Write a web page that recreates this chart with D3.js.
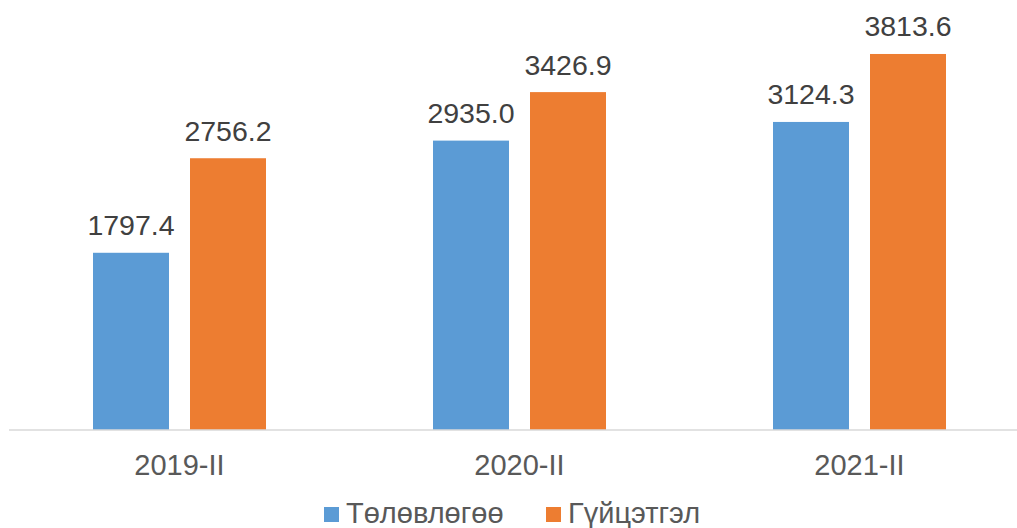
<!DOCTYPE html>
<html>
<head>
<meta charset="utf-8">
<script src="https://cdn.jsdelivr.net/npm/d3@7"></script>
<style>
  body { margin: 0; background: #ffffff; }
  svg text { font-family: "Liberation Sans", Arial, sans-serif; }
</style>
</head>
<body>
<svg id="chart" width="1017" height="528"></svg>
<script>
var categories = ["2019-II", "2020-II", "2021-II"];
var seriesNames = ["Төлөвлөгөө", "Гүйцэтгэл"];
var planValues = [1797.4, 2935.0, 3124.3];
var actualValues = [2756.2, 3426.9, 3813.6];
var seriesColors = ["#5b9bd5", "#ed7d31"];

var svg = d3.select("#chart");
var width = 1017, height = 528;
var baseY = 430;

var x = d3.scaleBand()
  .domain(categories)
  .range([9.5, 1029.5])
  .padding(0);

var xInner = d3.scaleBand()
  .domain(seriesNames)
  .range([-86.5, 86.5])
  .paddingInner(0.2165)
  .paddingOuter(0);

var y = d3.scaleLinear()
  .domain([0, 4000])
  .range([baseY, 35.6]);

var series = seriesNames.map(function (name, i) {
  return { name: name, color: seriesColors[i], values: i === 0 ? planValues : actualValues };
});

// bars
series.forEach(function (s) {
  var g = svg.append("g");
  g.selectAll("rect")
    .data(s.values)
    .enter().append("rect")
    .attr("x", function (d, i) { return x(categories[i]) + x.bandwidth() / 2 + xInner(s.name); })
    .attr("y", function (d) { return y(d); })
    .attr("width", xInner.bandwidth())
    .attr("height", function (d) { return baseY - y(d); })
    .attr("fill", s.color);

  g.selectAll("text")
    .data(s.values)
    .enter().append("text")
    .attr("x", function (d, i) { return x(categories[i]) + x.bandwidth() / 2 + xInner(s.name) + xInner.bandwidth() / 2; })
    .attr("y", function (d) { return y(d) - 17.5; })
    .attr("text-anchor", "middle")
    .attr("font-size", "28.5px")
    .attr("fill", "#404040")
    .text(function (d) { return d.toFixed(1); });
})

// category axis
var xAxis = d3.axisBottom(x).tickSize(0).tickPadding(0);
var axisG = svg.append("g")
  .attr("transform", "translate(0," + baseY + ")")
  .call(xAxis);
axisG.select(".domain").remove();
axisG.append("line")
  .attr("x1", 9).attr("x2", 1030)
  .attr("y1", 0).attr("y2", 0)
  .attr("stroke", "#d9d9d9")
  .attr("stroke-width", 1.5);
axisG.selectAll(".tick text")
  .attr("y", 45)
  .attr("dy", 0)
  .attr("font-size", "29px")
  .attr("font-family", "Liberation Sans, Arial, sans-serif")
  .attr("fill", "#595959");

// legend
var legendX = [324, 546];
var legend = svg.append("g");
series.forEach(function (s, i) {
  legend.append("rect")
    .attr("x", legendX[i]).attr("y", 507)
    .attr("width", 15).attr("height", 15)
    .attr("fill", s.color);
  legend.append("text")
    .attr("x", legendX[i] + 22).attr("y", 523)
    .attr("font-size", "29px")
    .attr("fill", "#595959")
    .text(s.name);
})
</script>
</body>
</html>
